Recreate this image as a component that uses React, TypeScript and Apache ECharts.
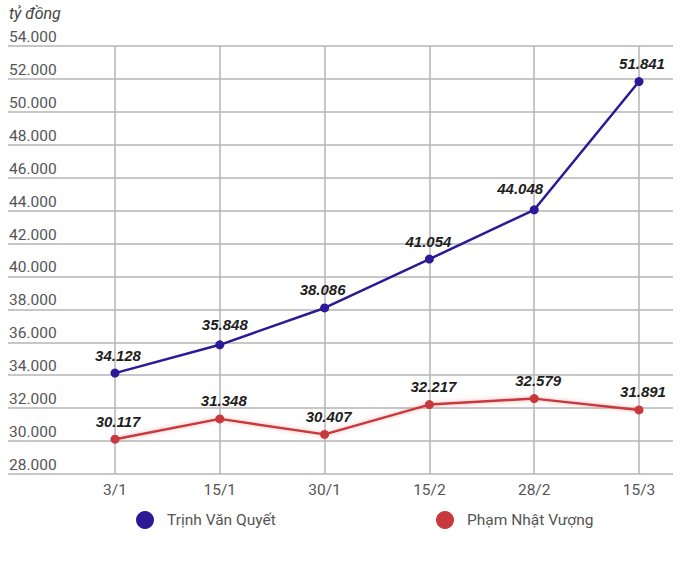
import { useEffect, useRef } from 'react';
import * as echarts from 'echarts';

const dates = ['3/1', '15/1', '30/1', '15/2', '28/2', '15/3'];
const quyetValues = [34128, 35848, 38086, 41054, 44048, 51841];
const vuongValues = [30117, 31348, 30407, 32217, 32579, 31891];
const unitLabel = 'tỷ đồng';
const quyetName = 'Trịnh Văn Quyết';
const vuongName = 'Phạm Nhật Vượng';

// label nudges
const quyetLabelOffsets: [number, number][] = [
  [3, 0], [5, -2], [-2, 0], [-1, 0], [-14, -3], [3, 0],
];
const vuongLabelOffsets: [number, number][] = [
  [3, 0], [4, 0], [4, 0], [4, 0], [4, 0], [4, 0],
];

const BLUE = '#2a1a98';
const RED = '#c8393c';
const GRID_LINE = '#b4b4b4';
const AXIS_TEXT = '#555555';

function formatThousands(value: number) {
  return String(Math.round(value)).replace(/\B(?=(\d{3})+(?!\d))/g, '.');
}

export default function App() {
  const containerRef = useRef<HTMLDivElement | null>(null);

  useEffect(() => {
    if (!containerRef.current) return;
    const chart = echarts.init(containerRef.current, undefined, { renderer: 'svg' });

    const labelStyle = {
      show: true,
      position: 'top' as const,
      distance: 6,
      fontFamily: 'Arial, "Liberation Sans", sans-serif',
      fontSize: 15,
      fontWeight: 'bold' as const,
      fontStyle: 'italic' as const,
      color: '#1e1e1e',
      formatter: (p: { value: number }) => formatThousands(p.value),
    };

    const legendText = {
      color: AXIS_TEXT,
      fontSize: 15.5,
      fontFamily: 'Roboto, sans-serif',
      padding: [0, 0, 0, 8],
    };

    chart.setOption({
      animation: false,
      backgroundColor: '#ffffff',
      grid: [
        { left: 8, right: 7, top: 46, bottom: 90 },
        { left: 115, right: 41, top: 46, bottom: 90 },
      ],
      legend: [
        {
          data: [quyetName],
          left: 131,
          top: 506,
          icon: 'circle',
          itemWidth: 18,
          itemHeight: 18,
          textStyle: legendText,
        },
        {
          data: [vuongName],
          left: 431,
          top: 506,
          icon: 'circle',
          itemWidth: 18,
          itemHeight: 18,
          textStyle: legendText,
        },
      ],
      xAxis: [
        { type: 'value', gridIndex: 0, show: false, min: 0, max: 1 },
        {
          type: 'category',
          gridIndex: 1,
          data: dates,
          boundaryGap: false,
          axisLine: { show: false },
          axisTick: { show: false },
          axisLabel: {
            color: AXIS_TEXT,
            fontSize: 15.5,
            fontFamily: 'Roboto, sans-serif',
            margin: 8,
          },
          splitLine: { show: true, lineStyle: { color: GRID_LINE, width: 1.5 } },
        },
      ],
      yAxis: [
        {
          type: 'value',
          gridIndex: 0,
          min: 28000,
          max: 54000,
          interval: 2000,
          axisLine: { show: false },
          axisTick: { show: false },
          axisLabel: {
            inside: true,
            margin: 1,
            align: 'left',
            verticalAlign: 'bottom',
            padding: [0, 0, 1, 0],
            color: AXIS_TEXT,
            fontSize: 15.5,
            fontFamily: 'Roboto, sans-serif',
            formatter: (value: number) => formatThousands(value),
          },
          splitLine: { show: true, lineStyle: { color: GRID_LINE, width: 1.5 } },
        },
        {
          type: 'value',
          gridIndex: 1,
          min: 28000,
          max: 54000,
          interval: 2000,
          axisLine: { show: false },
          axisTick: { show: false },
          axisLabel: { show: false },
          splitLine: { show: false },
        },
      ],
      graphic: [
        {
          type: 'text',
          left: 9,
          top: 5,
          style: {
            text: unitLabel,
            fill: '#444444',
            fontSize: 16,
            fontStyle: 'italic',
            fontFamily: 'Roboto, sans-serif',
          },
        },
      ],
      series: [
        {
          name: quyetName,
          type: 'line',
          xAxisIndex: 1,
          yAxisIndex: 1,
          data: quyetValues.map((value, i) => ({
            value,
            label: { offset: quyetLabelOffsets[i] },
          })),
          symbol: 'circle',
          symbolSize: 9,
          lineStyle: { color: BLUE, width: 2.5 },
          itemStyle: { color: BLUE },
          label: labelStyle,
          z: 3,
        },
        {
          name: vuongName,
          type: 'line',
          xAxisIndex: 1,
          yAxisIndex: 1,
          data: vuongValues.map((value, i) => ({
            value,
            label: { offset: vuongLabelOffsets[i] },
          })),
          symbol: 'circle',
          symbolSize: 9,
          lineStyle: {
            color: RED,
            width: 2.5,
            shadowColor: 'rgba(235, 120, 120, 0.6)',
            shadowBlur: 4,
          },
          itemStyle: { color: RED },
          label: labelStyle,
          z: 3,
        },
      ],
    });

    return () => {
      chart.dispose();
    };
  }, []);

  return (
    <div
      ref={containerRef}
      style={{ position: 'fixed', left: 0, top: 0, width: 680, height: 564, background: '#fff' }}
    />
  );
}
